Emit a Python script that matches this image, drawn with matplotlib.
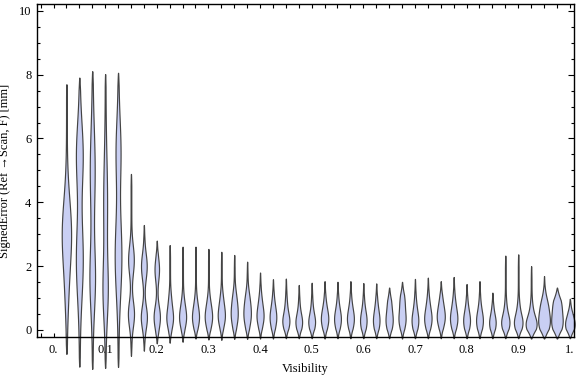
import numpy as np
import matplotlib.pyplot as plt
from matplotlib.ticker import MultipleLocator, FixedLocator

plt.rcParams['font.family'] = ['Liberation Serif', 'DejaVu Serif']

# violin positions on the visibility axis
visibility = [0.025, 0.05, 0.075, 0.1, 0.125, 0.15, 0.175, 0.2, 0.225, 0.25,
              0.275, 0.3, 0.325, 0.35, 0.375, 0.4, 0.425, 0.45, 0.475, 0.5,
              0.525, 0.55, 0.575, 0.6, 0.625, 0.65, 0.675, 0.7, 0.725, 0.75,
              0.775, 0.8, 0.825, 0.85, 0.875, 0.9, 0.925, 0.95, 0.975, 1.0]

# extent of each distribution (mm)
err_max = [7.70, 7.91, 8.11, 8.02, 8.06, 4.89, 3.29, 2.80, 2.66, 2.61,
           2.61, 2.54, 2.45, 2.35, 2.14, 1.80, 1.59, 1.61, 1.41, 1.48,
           1.53, 1.51, 1.53, 1.47, 1.46, 1.33, 1.51, 1.60, 1.64, 1.53,
           1.66, 1.44, 1.53, 1.17, 2.33, 2.37, 2.00, 1.69, 1.33, 0.98]
err_min = [-0.75, -1.15, -1.22, -1.19, -1.16, -0.81, -0.65, -0.42, -0.40, -0.37,
           -0.27, -0.30, -0.31, -0.28, -0.28, -0.27, -0.27, -0.26, -0.26, -0.26,
           -0.27, -0.26, -0.26, -0.26, -0.26, -0.26, -0.27, -0.26, -0.26, -0.26,
           -0.26, -0.26, -0.26, -0.26, -0.26, -0.26, -0.27, -0.27, -0.27, -0.26]

# main density bump: centre, relative width, spread
peak1 = [3.0, 5.5, 5.0, 4.0, 2.3, 2.2, 2.0, 1.9, 0.35, 0.35,
         0.35, 0.35, 0.4, 0.45, 0.45, 0.4, 0.35, 0.25, 0.22, 0.22,
         0.3, 0.3, 0.3, 0.25, 0.25, 0.25, 0.3, 0.25, 0.3, 0.35,
         0.3, 0.25, 0.25, 0.2, 0.2, 0.2, 0.15, 0.2, 0.2, 0.15]
dens1 = [4.3, 3.0, 2.1, 1.6, 3.0, 2.5, 2.5, 1.9, 2.8, 2.8,
         2.8, 2.9, 2.9, 2.9, 3.1, 2.9, 2.7, 2.9, 2.7, 2.7,
         2.9, 2.7, 2.7, 2.6, 2.6, 2.9, 2.9, 2.7, 2.9, 3.1,
         2.9, 2.7, 2.7, 2.6, 3.4, 3.5, 4.6, 4.8, 4.8, 3.9]
spread1 = [1.1, 1.0, 1.3, 1.4, 1.2, 0.45, 0.4, 0.35, 0.3, 0.3,
           0.3, 0.3, 0.3, 0.35, 0.35, 0.3, 0.3, 0.25, 0.25, 0.25,
           0.28, 0.28, 0.28, 0.28, 0.28, 0.28, 0.28, 0.28, 0.28, 0.28,
           0.28, 0.28, 0.28, 0.25, 0.25, 0.25, 0.25, 0.3, 0.3, 0.25]

# secondary bump
peak2 = [1.0, 2.2, 1.6, 1.2, 5.6, 0.5, 0.4, 0.4, 0.9, 0.8,
         0.8, 0.8, 0.9, 1.0, 1.0, 0.9, 0.8, 0.7, 0.6, 0.6,
         0.7, 0.7, 0.7, 0.65, 0.7, 0.8, 0.9, 0.7, 0.75, 0.8,
         0.75, 0.65, 0.65, 0.55, 0.6, 0.6, 0.55, 0.75, 0.8, 0.5]
dens2 = [0.8, 3.1, 2.4, 2.1, 2.1, 2.7, 2.7, 2.8, 1.0, 1.0,
         1.0, 1.2, 1.2, 1.2, 1.3, 1.0, 0.8, 0.8, 0.6, 0.7,
         1.0, 0.8, 0.9, 0.7, 0.9, 1.6, 2.0, 0.9, 1.2, 1.5,
         1.2, 0.8, 0.8, 0.6, 0.9, 1.0, 1.2, 3.0, 3.5, 1.0]
spread2 = [0.8, 1.2, 1.0, 0.9, 1.0, 0.4, 0.35, 0.35, 0.3, 0.3,
           0.3, 0.3, 0.3, 0.3, 0.3, 0.3, 0.3, 0.3, 0.3, 0.3,
           0.3, 0.3, 0.3, 0.3, 0.3, 0.3, 0.3, 0.3, 0.3, 0.3,
           0.3, 0.3, 0.3, 0.3, 0.3, 0.3, 0.3, 0.3, 0.3, 0.3]

fig = plt.figure(figsize=(5.76, 3.77), dpi=100)
ax = fig.add_axes([0.0642, 0.1053, 0.9323, 0.8837])

unit = 1.0 / 516  # one pixel in visibility units
for i, v in enumerate(visibility):
    y = np.linspace(err_min[i], err_max[i], 400)
    w = dens1[i] * np.exp(-0.5 * ((y - peak1[i]) / spread1[i]) ** 2)
    w += dens2[i] * np.exp(-0.5 * ((y - peak2[i]) / spread2[i]) ** 2)
    taper = np.clip((err_max[i] - y) / 0.4, 0, 1) * np.clip((y - err_min[i]) / 0.3, 0, 1)
    w = (w + 0.35) * np.sqrt(taper) * unit
    ax.fill_betweenx(y, v - w, v + w, facecolor='#c9cff3', edgecolor='#444444',
                     linewidth=0.85, clip_on=False, zorder=2)

ax.set_xlim(-0.032, 1.008)
ax.set_ylim(-0.23, 10.21)

ax.xaxis.set_major_locator(FixedLocator([0, 0.1, 0.2, 0.3, 0.4, 0.5, 0.6, 0.7, 0.8, 0.9, 1.0]))
ax.set_xticklabels(['0.', '0.1', '0.2', '0.3', '0.4', '0.5', '0.6', '0.7', '0.8', '0.9', '1.'])
ax.xaxis.set_minor_locator(MultipleLocator(0.025))
ax.yaxis.set_major_locator(MultipleLocator(2))
ax.yaxis.set_minor_locator(MultipleLocator(0.5))

ax.tick_params(which='both', direction='in', top=True, right=True, labelsize=9,
               width=0.8, color='black')
ax.tick_params(axis='x', which='both', length=3.0, pad=5)
ax.tick_params(axis='y', which='major', length=4.0, pad=4)
ax.tick_params(axis='y', which='minor', length=2.2)
for s in ax.spines.values():
    s.set_linewidth(1.0)

ax.set_xlabel('Visibility', fontsize=9, labelpad=5)
ax.set_ylabel('SignedError (Ref \u2192Scan, F) [mm]', fontsize=9, labelpad=6)

fig.savefig('out.png', dpi=100)
